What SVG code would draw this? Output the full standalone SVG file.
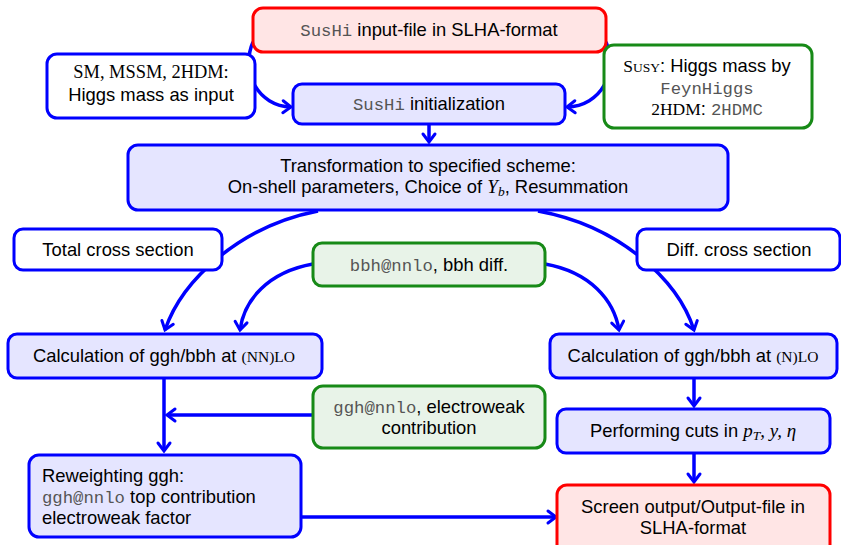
<svg xmlns="http://www.w3.org/2000/svg" width="841" height="545" viewBox="0 0 841 545">
<style>
.b{fill:#e5e5ff;stroke:#0000ff;stroke-width:3}
.w{fill:#ffffff;stroke:#0000ff;stroke-width:3}
.r{fill:#ffe5e5;stroke:#ff0000;stroke-width:3}
.g{fill:#e8f3e8;stroke:#178a17;stroke-width:3}
.gw{fill:#ffffff;stroke:#178a17;stroke-width:3}
text{font-family:"Liberation Sans",Arial,sans-serif;font-size:18.4px;fill:#000}
.c{text-anchor:middle}
.tt{font-family:"Liberation Mono","Courier New",monospace;font-size:17.3px;fill:#555}
.sf{font-family:"Liberation Serif","Times New Roman",serif}
.mi{font-family:"Liberation Serif","Times New Roman",serif;font-style:italic}
.e{fill:none;stroke:#0000ff;stroke-width:3.5}
</style>
<defs>
<marker id="a" markerUnits="userSpaceOnUse" markerWidth="20" markerHeight="20" viewBox="-10 -10 20 20" refX="0" refY="0" orient="auto" overflow="visible">
<path d="M-8,-6 Q-2,-1.5 0,0 Q-2,1.5 -8,6" fill="none" stroke="#0000ff" stroke-width="3" stroke-linecap="round"/>
</marker>
</defs>
<g id="edges">
<path class="e" marker-end="url(#a)" d="M253,42 C240,72 258,106 291,107"/>
<path class="e" marker-end="url(#a)" d="M606,42 C619,72 601,106 567,107"/>
<path class="e" marker-end="url(#a)" d="M429,125 L429,142"/>
<path class="e" marker-end="url(#a)" d="M318,211 C240,226 182,280 165,330"/>
<path class="e" marker-end="url(#a)" d="M538,211 C620,226 678,280 694,330"/>
<path class="e" marker-end="url(#a)" d="M313,264 C268,272 244,300 240,330"/>
<path class="e" marker-end="url(#a)" d="M545,264 C590,272 614,300 619,330"/>
<path class="e" marker-end="url(#a)" d="M164,379 L164,451"/>
<path class="e" marker-end="url(#a)" d="M313,415 L167,415"/>
<path class="e" marker-end="url(#a)" d="M694,379 L694,406"/>
<path class="e" marker-end="url(#a)" d="M694,454 L694,482"/>
<path class="e" marker-end="url(#a)" d="M302,517 L556,517"/>
</g>
<g id="input">
<rect class="r" x="253" y="8" width="353" height="44" rx="10"/>
<text class="c" x="429" y="36"><tspan class="tt">SusHi</tspan> input-file in SLHA-format</text>
</g>
<g id="init">
<rect class="b" x="293" y="84" width="272" height="40" rx="9"/>
<text class="c" x="429" y="110"><tspan class="tt">SusHi</tspan> initialization</text>
</g>
<g id="smmass">
<rect class="w" x="47" y="54" width="208" height="64" rx="10"/>
<text class="c sf" x="151" y="78" font-size="16.8">SM, MSSM, 2HDM:</text>
<text class="c" x="151" y="101">Higgs mass as input</text>
</g>
<g id="susymass">
<rect class="gw" x="604" y="45" width="208" height="83" rx="10"/>
<text class="c" x="707" y="72"><tspan class="sf" font-size="17.5">S</tspan><tspan class="sf" font-size="13.5">USY</tspan>: Higgs mass by</text>
<text class="c tt" x="707" y="94">FeynHiggs</text>
<text class="c" x="707" y="115"><tspan class="sf" font-size="17.5">2HDM</tspan>: <tspan class="tt">2HDMC</tspan></text>
</g>
<g id="transform">
<rect class="b" x="128" y="145" width="600" height="65" rx="10"/>
<text class="c" x="428" y="172">Transformation to specified scheme:</text>
<text class="c" x="428" y="193">On-shell parameters, Choice of <tspan class="mi" font-size="19">Y</tspan><tspan class="mi" font-size="13.5" dy="3">b</tspan><tspan dy="-3">, Resummation</tspan></text>
</g>
<g id="total">
<rect class="w" x="14" y="229" width="208" height="41" rx="9"/>
<text class="c" x="118" y="256">Total cross section</text>
</g>
<g id="diff">
<rect class="w" x="637" y="229" width="203" height="41" rx="9"/>
<text class="c" x="739" y="256">Diff. cross section</text>
</g>
<g id="bbh">
<rect class="g" x="313" y="243" width="232" height="43" rx="9"/>
<text class="c" x="429" y="271"><tspan class="tt">bbh@nnlo</tspan>, bbh diff.</text>
</g>
<g id="calcl">
<rect class="b" x="8" y="334" width="314" height="44" rx="9"/>
<text class="c" x="164" y="362">Calculation of ggh/bbh at <tspan class="sf" font-size="15.5">(NN)LO</tspan></text>
</g>
<g id="calcr">
<rect class="b" x="550" y="334" width="287" height="44" rx="9"/>
<text class="c" x="693" y="362">Calculation of ggh/bbh at <tspan class="sf" font-size="15.5">(N)LO</tspan></text>
</g>
<g id="gghew">
<rect class="g" x="313" y="386" width="232" height="62" rx="10"/>
<text class="c" x="429" y="413"><tspan class="tt">ggh@nnlo</tspan>, electroweak</text>
<text class="c" x="429" y="434">contribution</text>
</g>
<g id="cuts">
<rect class="b" x="557" y="409" width="273" height="44" rx="9"/>
<text class="c" x="693" y="437">Performing cuts in <tspan class="mi" font-size="19">p</tspan><tspan class="mi" font-size="13.5" dy="3">T</tspan><tspan class="mi" font-size="19" dy="-3">, y, η</tspan></text>
</g>
<g id="reweight">
<rect class="b" x="29" y="455" width="272" height="82" rx="10"/>
<text x="42" y="482">Reweighting ggh:</text>
<text x="42" y="503"><tspan class="tt">ggh@nnlo</tspan> top contribution</text>
<text x="42" y="524">electroweak factor</text>
</g>
<g id="output">
<rect class="r" x="557" y="485" width="273" height="70" rx="10"/>
<text class="c" x="693" y="513">Screen output/Output-file in</text>
<text class="c" x="693" y="534">SLHA-format</text>
</g>
</svg>
